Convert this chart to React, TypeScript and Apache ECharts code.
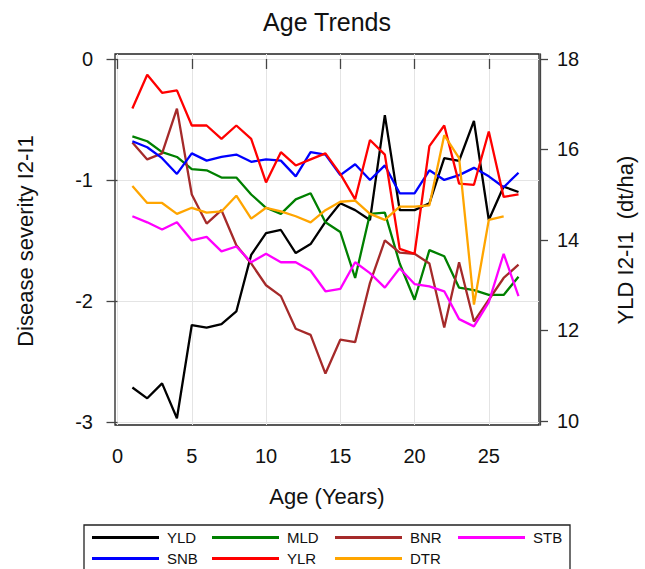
import React, { useEffect, useRef } from "react";
import * as echarts from "echarts";

const ages = [1, 2, 3, 4, 5, 6, 7, 8, 9, 10, 11, 12, 13, 14, 15, 16, 17, 18, 19, 20, 21, 22, 23, 24, 25, 26, 27];

const xTicks = [0, 5, 10, 15, 20, 25];
const leftTicks = [-3, -2, -1, 0];
const rightTicks = [10, 12, 14, 16, 18];

// YLD on right axis (dt/ha)
const yld = [10.74, 10.5, 10.83, 10.06, 12.12, 12.06, 12.14, 12.42, 13.67, 14.15, 14.22, 13.71, 13.91, 14.4, 14.81, 14.66, 14.44, 16.76, 14.66, 14.66, 14.81, 15.81, 15.75, 16.63, 14.44, 15.18, 15.06];
// Disease severity (left axis)
const mld = [-0.64, -0.68, -0.77, -0.81, -0.91, -0.92, -0.98, -0.98, -1.12, -1.23, -1.28, -1.16, -1.11, -1.35, -1.43, -1.81, -1.28, -1.27, -1.69, -1.99, -1.58, -1.63, -1.89, -1.91, -1.95, -1.95, -1.8];
const bnr = [-0.69, -0.83, -0.78, -0.41, -1.12, -1.36, -1.25, -1.54, -1.69, -1.87, -1.96, -2.23, -2.28, -2.6, -2.32, -2.34, -1.85, -1.5, -1.6, -1.61, -1.69, -2.22, -1.68, -2.17, -1.99, -1.81, -1.7];
const stb = [-1.3, -1.35, -1.41, -1.35, -1.5, -1.47, -1.59, -1.55, -1.68, -1.61, -1.68, -1.68, -1.75, -1.92, -1.9, -1.68, -1.77, -1.89, -1.73, -1.86, -1.88, -1.92, -2.15, -2.21, -2.01, -1.61, -1.96];
const snb = [-0.68, -0.73, -0.82, -0.95, -0.78, -0.84, -0.81, -0.79, -0.85, -0.83, -0.84, -0.97, -0.77, -0.79, -0.96, -0.87, -1.0, -0.88, -1.11, -1.11, -0.92, -1.0, -0.96, -0.9, -0.97, -1.06, -0.94];
const ylr = [-0.41, -0.13, -0.28, -0.26, -0.55, -0.55, -0.66, -0.55, -0.66, -1.02, -0.77, -0.88, -0.83, -0.78, -0.95, -1.16, -0.67, -0.79, -1.57, -1.61, -0.72, -0.55, -1.03, -1.04, -0.6, -1.14, -1.12];
const dtr = [-1.05, -1.19, -1.19, -1.28, -1.23, -1.27, -1.26, -1.13, -1.32, -1.23, -1.26, -1.3, -1.35, -1.25, -1.18, -1.17, -1.28, -1.33, -1.22, -1.22, -1.21, -0.63, -0.82, -2.03, -1.33, -1.3];

const legendColumns = [
  ["YLD", "SNB"],
  ["MLD", "YLR"],
  ["BNR", "DTR"],
  ["STB"],
];
const legendLefts = [92, 212, 335, 458];

const FONT = "'Liberation Sans', Arial, sans-serif";

export default function App() {
  const ref = useRef<HTMLDivElement>(null);
  useEffect(() => {
    const chart = echarts.init(ref.current as HTMLDivElement, null, { renderer: "svg" });
    const mk = (name: string, values: number[], color: string, yAxisIndex: number) => ({
      name,
      type: "line",
      yAxisIndex,
      data: values.map((v, i) => [ages[i], v]),
      symbol: "none",
      showSymbol: false,
      lineStyle: { color, width: 2.3 },
      itemStyle: { color },
      emphasis: { disabled: true },
    });
    const legends = legendColumns.map((col, i) => ({
      left: legendLefts[i],
      top: 529,
      orient: "vertical",
      icon: "rect",
      itemWidth: 67,
      itemHeight: 3,
      itemGap: 4,
      padding: 0,
      textStyle: { fontSize: 15, lineHeight: 17, color: "#111", fontFamily: FONT, padding: [0, 0, 0, 3] },
      data: col,
    }));
    chart.setOption({
      animation: false,
      backgroundColor: "#fff",
      textStyle: { fontFamily: FONT },
      grid: {
        left: 115,
        right: 106,
        top: 54,
        bottom: 144,
        show: true,
        borderColor: "#222",
        borderWidth: 1.3,
        backgroundColor: "#fff",
        containLabel: false,
      },
      xAxis: {
        type: "value",
        min: -0.17,
        max: 28.38,
        axisLine: { show: false },
        axisTick: { show: true, customValues: xTicks, length: 10, lineStyle: { color: "#444", width: 1.3 } },
        axisLabel: { customValues: xTicks, fontSize: 20, color: "#111", margin: 21, fontFamily: FONT },
        splitLine: { show: true, lineStyle: { color: "#e4e4e4", width: 1 } },
      },
      yAxis: [
        {
          type: "value",
          position: "left",
          min: -3.025,
          max: 0.041,
          offset: 2,
          axisLine: { show: false },
          axisTick: { show: true, customValues: leftTicks, length: 11, lineStyle: { color: "#444", width: 1.3 } },
          axisLabel: { customValues: leftTicks, fontSize: 20, color: "#111", margin: 20, fontFamily: FONT },
          splitLine: { show: true, lineStyle: { color: "#e4e4e4", width: 1 } },
        },
        {
          type: "value",
          position: "right",
          min: 9.91,
          max: 18.11,
          offset: 1,
          axisLine: { show: true, lineStyle: { color: "#444", width: 1.3 } },
          axisTick: { show: true, customValues: rightTicks, length: 8, lineStyle: { color: "#444", width: 1.3 } },
          axisLabel: { customValues: rightTicks, fontSize: 20, color: "#111", margin: 17, fontFamily: FONT },
          splitLine: { show: false },
        },
      ],
      legend: legends,
      graphic: [
        {
          type: "text",
          x: 327,
          y: 22,
          style: { text: "Age Trends", font: `25px ${FONT}`, fill: "#111", align: "center", verticalAlign: "middle" },
        },
        {
          type: "text",
          x: 327,
          y: 496,
          style: { text: "Age (Years)", font: `22px ${FONT}`, fill: "#111", align: "center", verticalAlign: "middle" },
        },
        {
          type: "text",
          x: 25,
          y: 241,
          rotation: Math.PI / 2,
          style: { text: "Disease severity I2-I1", font: `22px ${FONT}`, fill: "#111", align: "center", verticalAlign: "middle" },
        },
        {
          type: "text",
          x: 625,
          y: 240,
          rotation: Math.PI / 2,
          style: { text: "YLD I2-I1  (dt/ha)", font: `22px ${FONT}`, fill: "#111", align: "center", verticalAlign: "middle" },
        },
        {
          type: "rect",
          shape: { x: 84, y: 525, width: 486, height: 60 },
          style: { fill: "none", stroke: "#222", lineWidth: 1.3 },
        },
      ],
      series: [
        mk("YLD", yld, "#000000", 1),
        mk("MLD", mld, "#008000", 0),
        mk("BNR", bnr, "#a52a2a", 0),
        mk("STB", stb, "#ff00ff", 0),
        mk("SNB", snb, "#0000ff", 0),
        mk("YLR", ylr, "#ff0000", 0),
        mk("DTR", dtr, "#ffa500", 0),
      ],
    });
    return () => chart.dispose();
  }, []);
  return <div ref={ref} style={{ position: "fixed", left: 0, top: 0, width: 645, height: 569 }} />;
}
